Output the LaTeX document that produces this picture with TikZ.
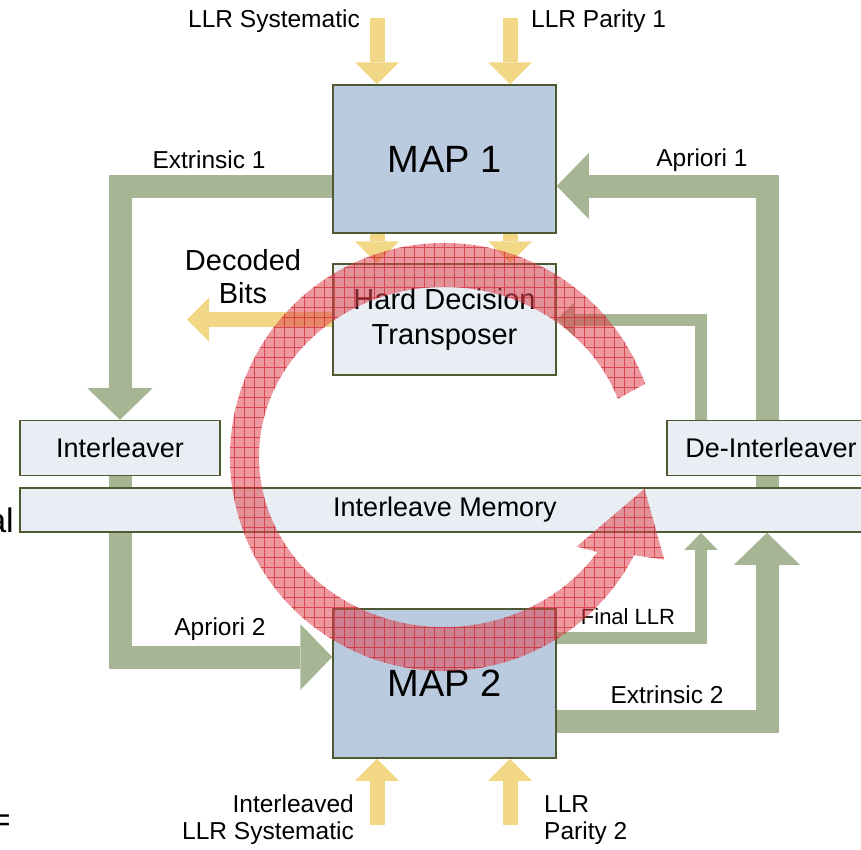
\documentclass[tikz,border=0pt]{standalone}
\usepackage{fontspec}
\setmainfont{Liberation Sans}
\usetikzlibrary{
    arrows.meta,
    backgrounds,
    calc
}
\definecolor{mapblue}{RGB}{187,203,223}
\definecolor{paleblue}{RGB}{232,238,243}
\definecolor{edgeolive}{RGB}{80,90,50}
\definecolor{bandgreen}{RGB}{166,181,147}
\definecolor{llryellow}{RGB}{242,216,134}
\definecolor{ringred}{RGB}{222,70,80}
\definecolor{gridred}{RGB}{200,20,30}
\tikzset{
    box/.style={draw=edgeolive, line width=1.5pt, inner sep=0pt, align=center},
    mapbox/.style={box, fill=mapblue, minimum width=223pt, minimum height=148pt,
        font=\fontsize{38}{44}\selectfont},
    palebox/.style={box, fill=paleblue, font=\fontsize{27}{32}\selectfont},
    lbl/.style={inner sep=0pt, font=\fontsize{24.5}{27}\selectfont},
    band/.style={draw=bandgreen, line width=23pt},
    thinband/.style={draw=bandgreen, line width=12pt},
    bigtip/.style={-{Triangle[width=66pt, length=32pt, line width=0pt]}},
    smalltip/.style={-{Triangle[width=33pt, length=17pt, line width=0pt]}},
    llrarrow/.style={draw=llryellow, line width=15pt,
        -{Triangle[width=44pt, length=22pt, line width=0pt]}},
    ringfill/.style={fill=ringred, fill opacity=0.55},
    ringgrid/.style={draw=gridred, draw opacity=0.6, line width=0.7pt}
}

\begin{document}
\begin{tikzpicture}[x=1pt, y=-1pt]
    \useasboundingbox (0,0) rectangle (861,849);
    \clip (0,0) rectangle (861,849);
    % blocks
    \node[mapbox] (map1) at (444.5,159) {MAP 1};
    \node[palebox, minimum width=223pt, minimum height=111pt,
        font=\fontsize{29}{35}\selectfont] (hdt) at (444.5,319.5) {Hard Decision\\Transposer};
    \node[palebox, minimum width=200pt, minimum height=55pt] (ileaver) at (120,448) {Interleaver};
    \node[palebox, minimum width=208pt, minimum height=55pt] (deil) at (771,448) {De-Interleaver};
    \node[palebox, minimum width=850pt, minimum height=44pt] (imem) at (445,510) {Interleave Memory};
    \node[mapbox, minimum height=149pt] (map2) at (444.5,683.5) {MAP 2};
    \coordinate (ecol) at ([xshift=-4pt]deil.north);
    \coordinate (fcol) at ([xshift=-70pt]deil.north);
    \coordinate (dout) at (187,319.5);
    % connectors behind the blocks
    \begin{scope}[on background layer]
        \draw[band, bigtip] ([yshift=-27pt]map1.west) -| (ileaver.north);
        \draw[band, bigtip] (ileaver.south) |- ([yshift=26.5pt]map2.west);
        \draw[band, bigtip] (ecol) |- ([yshift=-27pt]map1.east);
        \draw[thinband, smalltip] (fcol) |- (hdt.east);
        \draw[thinband, smalltip] ([yshift=46pt]map2.east) -| (fcol |- imem.south);
        \draw[band, bigtip] ([yshift=-37.5pt]map2.east) -| (ecol |- imem.south);
        \draw[band] (ecol |- imem.center) -- (ecol |- deil.south);
        \foreach \cx [count=\i] in {377,510}{
            \coordinate (top\i) at (\cx,18);
            \coordinate (bot\i) at (\cx,825);
            \draw[llrarrow] (top\i) -- (top\i |- map1.north);
            \draw[llrarrow] (top\i |- map1.south) -- (top\i |- hdt.north);
            \draw[llrarrow] (bot\i) -- (bot\i |- map2.south);
        }
        \draw[llrarrow] (hdt.west) -- (dout);
    \end{scope}
    % labels
    \node[lbl, anchor=east] (sysin) at (360,21) {LLR Systematic};
    \node[lbl, anchor=west] (par1in) at (531,21) {LLR Parity 1};
    \node[lbl] (ext1) at (209,160) {Extrinsic 1};
    \node[lbl] (apr1) at (702,160) {Apriori 1};
    \node[lbl, font=\fontsize{29}{33}\selectfont, align=center] (dec) at (243,277) {Decoded\\Bits};
    \node[lbl] (apr2) at (220,629) {Apriori 2};
    \node[lbl, font=\fontsize{22}{26}\selectfont] (flr) at (628,617) {Final LLR};
    \node[lbl] (ext2) at (667,695) {Extrinsic 2};
    \node[lbl, anchor=east, align=right] (sys2in) at (354,820) {Interleaved\\LLR Systematic};
    \node[lbl, anchor=west, align=left] (par2in) at (544,820) {LLR\\Parity 2};
    \node[lbl, font=\fontsize{34}{40}\selectfont, anchor=base east] (cut1) at (14,532) {al};
    \node[lbl, font=\fontsize{34}{40}\selectfont, anchor=base east] (cut2) at (11,831) {=};
    % iteration ring
    \begin{scope}[shift={(444,457)}, yscale=-1]
        \def\ringpath{(20:214) arc[start angle=20, end angle=332.7, radius=214]
            -- (-25:243) -- (-9:203) -- (-34:160) -- (326:185 and 170)
            arc[start angle=326, end angle=20, x radius=185, y radius=170] -- cycle}
        \fill[ringfill] \ringpath;
        \begin{scope}
            \clip \ringpath;
            \draw[ringgrid] (-260,-260) grid[step=10pt] (260,260);
        \end{scope}
    \end{scope}
\end{tikzpicture}
\end{document}
